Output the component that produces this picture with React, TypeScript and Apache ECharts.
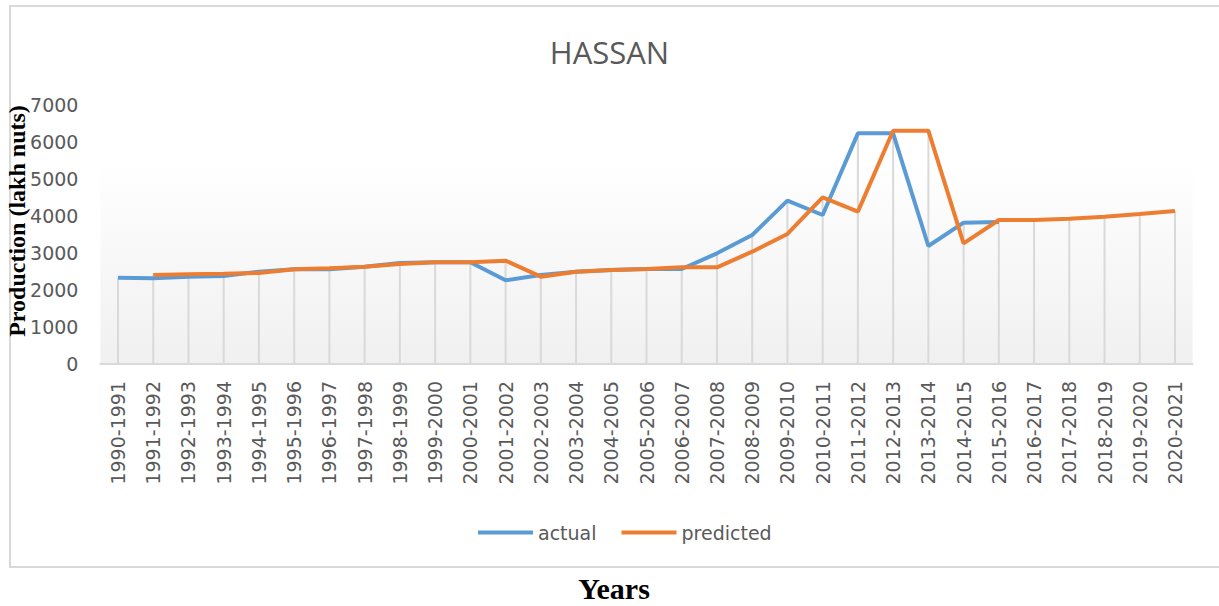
import React, { useEffect, useRef } from "react";
import * as echarts from "echarts";

const categories = [
  "1990-1991", "1991-1992", "1992-1993", "1993-1994", "1994-1995", "1995-1996",
  "1996-1997", "1997-1998", "1998-1999", "1999-2000", "2000-2001", "2001-2002",
  "2002-2003", "2003-2004", "2004-2005", "2005-2006", "2006-2007", "2007-2008",
  "2008-2009", "2009-2010", "2010-2011", "2011-2012", "2012-2013", "2013-2014",
  "2014-2015", "2015-2016", "2016-2017", "2017-2018", "2018-2019", "2019-2020",
  "2020-2021",
];

const actual: (number | null)[] = [
  2332, 2320, 2360, 2378, 2495, 2559, 2560, 2630, 2730, 2748, 2748, 2261, 2405,
  2495, 2540, 2568, 2568, 2991, 3486, 4414, 4027, 6234, 6234, 3189, 3820, 3840,
  null, null, null, null, null,
];

const predicted: (number | null)[] = [
  null, 2405, 2423, 2440, 2460, 2559, 2585, 2630, 2700, 2748, 2748, 2793, 2360,
  2495, 2540, 2568, 2613, 2613, 3036, 3514, 4505, 4117, 6306, 6306, 3261, 3892,
  3892, 3928, 3982, 4054, 4135,
];

const yTicks = { min: 0, max: 7000, interval: 1000 };

export default function App() {
  const ref = useRef<HTMLDivElement>(null);
  useEffect(() => {
    if (!ref.current) return;
    const chart = echarts.init(ref.current, null, { renderer: "svg" });
    const dropLines = categories.map((_, i) => {
      const a = actual[i];
      const p = predicted[i];
      const vals = [a, p].filter((v) => v != null) as number[];
      return vals.length ? Math.max(...vals) : null;
    });
    chart.setOption({
      animation: false,
      backgroundColor: "#ffffff",
      title: {
        text: "HASSAN",
        left: "center",
        top: 31,
        textStyle: {
          color: "#595959",
          fontSize: 31,
          fontWeight: "normal",
          fontFamily: "Open Sans",
        },
      },
      legend: {
        left: 473,
        top: 518,
        itemWidth: 55,
        itemHeight: 4,
        itemGap: 25,
        icon: "rect",
        data: ["actual", "predicted"],
        textStyle: { color: "#595959", fontSize: 19, fontFamily: "DejaVu Sans" },
      },
      grid: {
        left: 100.4,
        right: 26.4,
        top: 105,
        bottom: 242,
        show: true,
        borderWidth: 0,
        backgroundColor: new echarts.graphic.LinearGradient(0, 0, 0, 1, [
          { offset: 0, color: "#ffffff" },
          { offset: 0.22, color: "#ffffff" },
          { offset: 1, color: "#f0f0f0" },
        ]),
      },
      xAxis: {
        type: "category",
        data: categories,
        boundaryGap: true,
        axisLine: { lineStyle: { color: "#d9d9d9", width: 2 } },
        axisTick: { show: false },
        axisLabel: {
          rotate: 90,
          interval: 0,
          margin: 17,
          color: "#595959",
          fontSize: 19,
          fontFamily: "DejaVu Sans",
        },
      },
      yAxis: {
        type: "value",
        min: yTicks.min,
        max: yTicks.max,
        interval: yTicks.interval,
        axisLine: { show: false },
        axisTick: { show: false },
        splitLine: { show: false },
        axisLabel: {
          margin: 22,
          color: "#595959",
          fontSize: 19,
          fontFamily: "DejaVu Sans",
          formatter: (v: number) => String(v),
        },
      },
      series: [
        {
          type: "bar",
          name: "drop",
          data: dropLines,
          barWidth: 2,
          silent: true,
          itemStyle: { color: "#d9d9d9" },
          z: 1,
        },
        {
          type: "line",
          name: "actual",
          data: actual,
          symbol: "none",
          lineStyle: { color: "#5b9bd5", width: 4 },
          itemStyle: { color: "#5b9bd5" },
          z: 3,
        },
        {
          type: "line",
          name: "predicted",
          data: predicted,
          symbol: "none",
          lineStyle: { color: "#ed7d31", width: 4 },
          itemStyle: { color: "#ed7d31" },
          z: 4,
        },
      ],
      graphic: [
        {
          type: "rect",
          shape: { x: 10, y: 6, width: 1230, height: 561 },
          style: { fill: "none", stroke: "#d9d9d9", lineWidth: 2 },
          z: 0,
          silent: true,
        },
        {
          type: "text",
          x: 17,
          y: 221,
          rotation: Math.PI / 2,
          style: {
            text: "Production (lakh nuts)",
            fill: "#000000",
            font: "bold 24px 'Liberation Serif'",
            textAlign: "center",
            textVerticalAlign: "middle",
          },
          z: 10,
        },
        {
          type: "text",
          x: 614,
          y: 588,
          style: {
            text: "Years",
            fill: "#000000",
            font: "bold 30px 'Liberation Serif'",
            textAlign: "center",
            textVerticalAlign: "middle",
          },
          z: 10,
        },
      ],
    });
    return () => chart.dispose();
  }, []);
  return (
    <div
      ref={ref}
      style={{ position: "fixed", left: 0, top: 0, width: 1219, height: 606 }}
    />
  );
}
